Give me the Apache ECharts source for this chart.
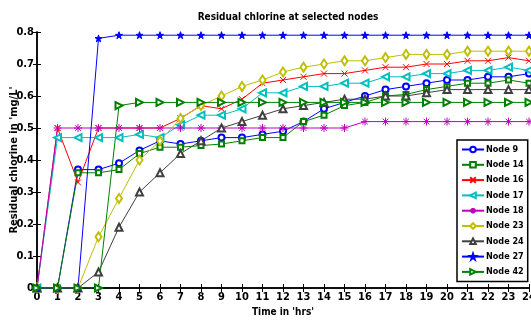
<!DOCTYPE html>
<html>
<head>
<meta charset="utf-8">
<script src="https://cdn.jsdelivr.net/npm/echarts@6/dist/echarts.min.js"></script>
<style>
  html, body { margin: 0; padding: 0; background: #fff; }
  #chart { width: 531px; height: 324px; }
</style>
</head>
<body>
<div id="chart"></div>
<script>
const hours = [0,1,2,3,4,5,6,7,8,9,10,11,12,13,14,15,16,17,18,19,20,21,22,23,24]
const node9  = [0,0,0.37,0.37,0.39,0.43,0.46,0.45,0.46,0.47,0.47,0.48,0.49,0.52,0.56,0.58,0.60,0.62,0.63,0.64,0.65,0.65,0.66,0.66,0.67]
const node14 = [0,0,0.36,0.36,0.37,0.42,0.44,0.44,0.445,0.45,0.46,0.47,0.47,0.52,0.54,0.57,0.58,0.60,0.605,0.62,0.63,0.64,0.64,0.65,0.64]
const node16 = [0,0.5,0.33,0.5,0.5,0.5,0.5,0.53,0.57,0.56,0.59,0.64,0.65,0.66,0.67,0.67,0.68,0.69,0.69,0.70,0.70,0.71,0.71,0.72,0.71]
const node17 = [0,0.47,0.47,0.47,0.47,0.48,0.47,0.51,0.54,0.54,0.56,0.61,0.61,0.63,0.63,0.64,0.64,0.66,0.66,0.67,0.67,0.68,0.68,0.69,0.68]
const node18 = [0,0.5,0.5,0.5,0.5,0.5,0.5,0.5,0.5,0.5,0.5,0.5,0.5,0.5,0.5,0.5,0.52,0.52,0.52,0.52,0.52,0.52,0.52,0.52,0.52]
const node23 = [0,0,0,0.16,0.28,0.40,0.46,0.53,0.57,0.60,0.63,0.65,0.675,0.69,0.70,0.71,0.71,0.72,0.73,0.73,0.73,0.74,0.74,0.74,0.74]
const node24 = [0,0,0,0.05,0.19,0.30,0.36,0.42,0.46,0.50,0.52,0.54,0.56,0.57,0.58,0.59,0.59,0.60,0.60,0.61,0.62,0.62,0.62,0.62,0.62]
const node27 = [0,0,0,0.78,0.79,0.79,0.79,0.79,0.79,0.79,0.79,0.79,0.79,0.79,0.79,0.79,0.79,0.79,0.79,0.79,0.79,0.79,0.79,0.79,0.79]
const node42 = [0,0,0,0,0.57,0.58,0.58,0.58,0.58,0.58,0.58,0.58,0.58,0.58,0.58,0.58,0.58,0.58,0.58,0.58,0.58,0.58,0.58,0.58,0.58]

const FONT = "'Liberation Sans Narrow', 'DejaVu Sans Condensed', 'Liberation Sans', Arial, sans-serif"

// marker shapes (matlab-ish)
const xMark = 'path://M0,0L10,10M10,0L0,10'
const asterisk = 'path://M5,0L5,10M0,5L10,5M1.5,1.5L8.5,8.5M8.5,1.5L1.5,8.5'
const star = 'path://M5,0L6.2,3.6L10,3.6L6.9,5.8L8.1,9.5L5,7.2L1.9,9.5L3.1,5.8L0,3.6L3.8,3.6Z'

const pairs = (arr) => hours.map((h, i) => [h, arr[i]])

const mkSeries = (name, data, color, symbol, size, rotate) => ({
  name: name,
  type: 'line',
  data: pairs(data),
  symbol: symbol,
  symbolSize: size,
  symbolRotate: rotate || 0,
  showAllSymbol: true,
  lineStyle: { color: color, width: 1 },
  itemStyle: { color: color, borderColor: color, borderWidth: 1 },
  emphasis: { disabled: true },
  animation: false
})

const chart = echarts.init(document.getElementById('chart'))

let option = {
  backgroundColor: '#fff',
  title: {
    text: 'Residual chlorine at selected nodes',
    left: 283,
    top: 7,
    textAlign: 'center',
    textStyle: { fontFamily: FONT, fontSize: 10, fontWeight: 'bold', color: '#000' }
  },
  grid: { left: 37, right: 2, top: 32, bottom: 36, outerBoundsMode: 'none', containLabel: false },
  legend: {
    orient: 'vertical',
    left: 457,
    top: 140,
    itemWidth: 22,
    itemHeight: 7,
    itemGap: 4.3,
    padding: [4, 4, 4, 4],
    borderColor: '#000',
    borderWidth: 1.5,
    backgroundColor: '#fff',
    lineStyle: { width: 2 },
    textStyle: { fontFamily: FONT, fontSize: 9, fontWeight: 'bold', color: '#000', padding: [0, 0, 0, -3], lineHeight: 11 },
    data: ['Node 9','Node 14','Node 16','Node 17','Node 18','Node 23','Node 24','Node 27','Node 42']
  },
  xAxis: [{
    type: 'value',
    min: 0, max: 24, interval: 1,
    name: "Time in 'hrs'",
    nameLocation: 'middle',
    nameGap: 19,
    nameMoveOverlap: false,
    nameTextStyle: { fontFamily: FONT, fontSize: 10, fontWeight: 'bold', color: '#000' },
    axisLine: { lineStyle: { color: '#000', width: 1.5 } },
    axisTick: { inside: true, length: 4, lineStyle: { color: '#000' } },
    axisLabel: { fontFamily: FONT, fontSize: 11, fontWeight: 'bold', color: '#000', margin: 4 },
    splitLine: { show: false }
  }, {
    type: 'value',
    position: 'top',
    min: 0, max: 24, interval: 1,
    axisLine: { show: true, lineStyle: { color: '#000', width: 1.5 } },
    axisTick: { show: true, inside: true, length: 4, lineStyle: { color: '#000' } },
    axisLabel: { show: false },
    splitLine: { show: false }
  }],
  yAxis: [{
    type: 'value',
    min: 0, max: 0.8, interval: 0.1,
    name: "Residual chlorine in 'mg/L'",
    nameLocation: 'middle',
    nameGap: 17,
    nameMoveOverlap: false,
    nameTextStyle: { fontFamily: FONT, fontSize: 11, fontWeight: 'bold', color: '#000' },
    axisLine: { show: true, lineStyle: { color: '#000', width: 1.5 } },
    axisTick: { show: true, inside: true, length: 4, lineStyle: { color: '#000' } },
    axisLabel: {
      fontFamily: FONT, fontSize: 11, fontWeight: 'bold', color: '#000', margin: 3,
      formatter: (v) => v === 0 ? '0' : v.toFixed(1)
    },
    splitLine: { show: false }
  }, {
    type: 'value',
    position: 'right',
    min: 0, max: 0.8, interval: 0.1,
    axisLine: { show: true, lineStyle: { color: '#000', width: 1.5 } },
    axisTick: { show: true, inside: true, length: 4, lineStyle: { color: '#000' } },
    axisLabel: { show: false },
    splitLine: { show: false }
  }],
  series: [
    mkSeries('Node 9', node9, '#0000ff', 'emptyCircle', 6),
    mkSeries('Node 14', node14, '#008000', 'emptyRect', 5),
    mkSeries('Node 16', node16, '#ff0000', xMark, 6),
    mkSeries('Node 17', node17, '#00bfbf', 'emptyTriangle', 7, 90),
    mkSeries('Node 18', node18, '#bf00bf', asterisk, 8),
    mkSeries('Node 23', node23, '#bfbf00', 'emptyDiamond', [6, 9]),
    mkSeries('Node 24', node24, '#404040', 'emptyTriangle', 7),
    mkSeries('Node 27', node27, '#0000ff', star, 7),
    mkSeries('Node 42', node42, '#008000', 'emptyTriangle', 7, -90)
  ]
}

chart.setOption(option)
</script>
</body>
</html>
